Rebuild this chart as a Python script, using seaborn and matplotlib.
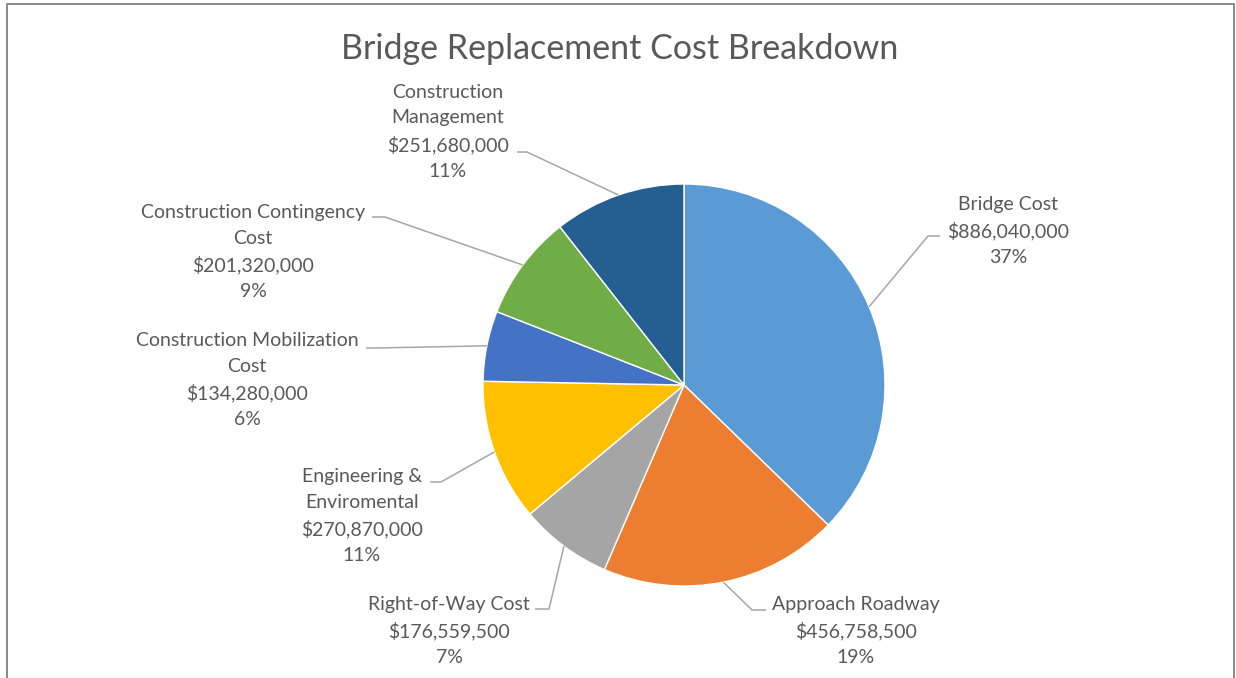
import numpy as np
import seaborn as sns
import matplotlib.pyplot as plt
from matplotlib.lines import Line2D

# data
categories = ["Bridge Cost", "Approach Roadway", "Right-of-Way Cost",
              "Engineering &\nEnviromental", "Construction Mobilization\nCost",
              "Construction Contingency\nCost", "Construction\nManagement"]
costs = [886040000, 456758500, 176559500, 270870000, 134280000, 201320000, 251680000]
pct_labels = ["37%", "19%", "7%", "11%", "6%", "9%", "11%"]
colors = ["#5B9BD5", "#ED7D31", "#A5A5A5", "#FFC000", "#4472C4", "#70AD47", "#255E91"]

W, H = 1236, 678
# label layout in pixel coords (x, y from top): text centre, elbow, end of leader
label_pos = [(1008, 231), (856, 631), (449, 631), (362, 516), (247, 380), (253, 252), (448, 132)]
elbows = [(928, 236), (752, 610), (549, 609), (441, 482), (376, 348), (385, 217), (527, 152)]
ends = [(940, 236), (766, 610), (535, 609), (430, 482), (366, 348), (372, 217), (517, 152)]

sns.set_style("white")
plt.rcParams['font.family'] = ['Lato', 'DejaVu Sans']

fig = plt.figure(figsize=(W / 100, H / 100), dpi=100)
ax = fig.add_axes([0, 0, 1, 1])

cx, cy, r = 684, H - 385, 201
wedges, _ = ax.pie(costs, colors=colors, startangle=90, counterclock=False,
                   radius=r, center=(cx, cy), frame=True,
                   wedgeprops=dict(edgecolor="white", linewidth=1))
ax.set_xlim(0, W)
ax.set_ylim(0, H)
ax.axis("off")

txt_color = "#595959"
line_color = "#A6A6A6"
for w, name, val, pct, (tx, ty), (ex, ey), (nx, ny) in zip(
        wedges, categories, costs, pct_labels, label_pos, elbows, ends):
    mid = np.deg2rad((w.theta1 + w.theta2) / 2)
    px, py = cx + r * np.cos(mid), cy + r * np.sin(mid)
    ax.plot([px, ex, nx], [py, H - ey, H - ny], color=line_color, lw=1.1,
            solid_capstyle="butt")
    ax.text(tx, H - ty, f"{name}\n${val:,}\n{pct}", ha="center", va="center",
            fontsize=14, color=txt_color, linespacing=1.6)

ax.text(620, H - 49, "Bridge Replacement Cost Breakdown", ha="center", va="center",
        fontsize=24.5, color=txt_color)

# outer frame (bottom edge cut off)
fig.add_artist(Line2D([7 / W, 7 / W, 1234 / W, 1234 / W],
                      [0, 1 - 4 / H, 1 - 4 / H, 0], color="#898989", lw=1.4,
                      transform=fig.transFigure))

fig.savefig("out.png", dpi=100)
